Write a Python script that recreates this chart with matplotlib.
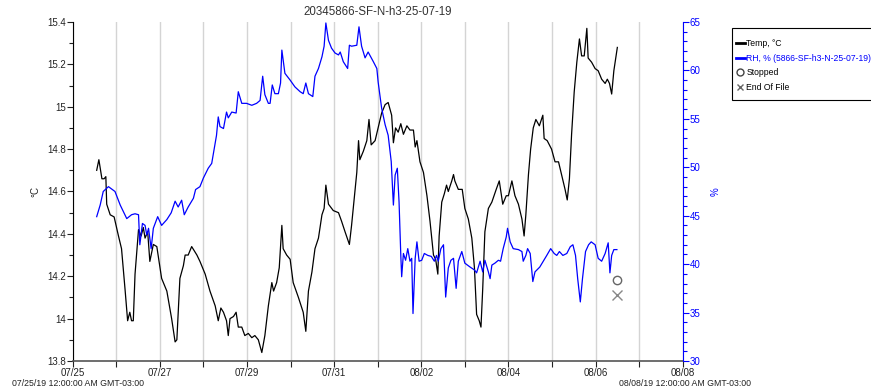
import numpy as np
import matplotlib
matplotlib.use("Agg")
import matplotlib.pyplot as plt
from matplotlib.lines import Line2D
from matplotlib.patches import Rectangle
from matplotlib.ticker import MultipleLocator

plt.rcParams['font.family'] = ['Liberation Sans', 'DejaVu Sans']

# dias desde 07/25/19 00:00
temp_dia = [0.55, 0.60, 0.67, 0.72, 0.76, 0.78, 0.86, 0.95, 1.05, 1.12, 1.20, 1.26, 1.31, 1.35, 1.39,
            1.43, 1.51, 1.57, 1.62, 1.66, 1.72, 1.77, 1.85, 1.93, 2.04, 2.16, 2.27, 2.35, 2.39, 2.46,
            2.54, 2.58, 2.65, 2.73, 2.85, 2.92, 3.04, 3.15, 3.27, 3.34, 3.40, 3.46, 3.53, 3.57, 3.61,
            3.69, 3.75, 3.80, 3.88, 3.95, 4.03, 4.11, 4.18, 4.26, 4.34, 4.41, 4.49, 4.57, 4.61, 4.68,
            4.74, 4.80, 4.83, 4.91, 4.99, 5.06, 5.18, 5.29, 5.35, 5.41, 5.49, 5.56, 5.64, 5.72, 5.77,
            5.81, 5.87, 5.98, 6.10, 6.17, 6.25, 6.35, 6.40, 6.48, 6.52, 6.56, 6.59, 6.67, 6.75, 6.80,
            6.85, 6.94, 7.01, 7.09, 7.17, 7.24, 7.32, 7.36, 7.41, 7.47, 7.53, 7.59, 7.67, 7.74, 7.82,
            7.86, 7.90, 7.97, 8.05, 8.13, 8.20, 8.28, 8.33, 8.38, 8.41, 8.47, 8.53, 8.58, 8.62, 8.70,
            8.74, 8.77, 8.85, 8.94, 9.00, 9.08, 9.16, 9.22, 9.27, 9.33, 9.37, 9.41, 9.46, 9.54, 9.62,
            9.72, 9.79, 9.87, 9.95, 10.00, 10.08, 10.15, 10.23, 10.31, 10.36, 10.40, 10.46, 10.51, 10.57,
            10.63, 10.71, 10.79, 10.82, 10.89, 10.99, 11.07, 11.15, 11.22, 11.30, 11.35, 11.40, 11.45,
            11.51, 11.57, 11.63, 11.68, 11.74, 11.80, 11.83, 11.91, 11.99, 12.06, 12.14, 12.22, 12.27,
            12.32, 12.37, 12.42, 12.50]
temp_val = [14.70, 14.75, 14.66, 14.66, 14.67, 14.54, 14.49, 14.48, 14.39, 14.33, 14.14, 13.99, 14.03, 13.99, 13.99,
            14.21, 14.42, 14.39, 14.43, 14.38, 14.41, 14.27, 14.35, 14.34, 14.19, 14.13, 14.00, 13.89, 13.90, 14.19,
            14.25, 14.30, 14.30, 14.34, 14.30, 14.27, 14.21, 14.13, 14.06, 13.99, 14.05, 14.03, 13.99, 13.92, 14.00,
            14.01, 14.03, 13.96, 13.96, 13.92, 13.93, 13.91, 13.92, 13.90, 13.84, 13.92, 14.06, 14.17, 14.13, 14.17,
            14.24, 14.44, 14.33, 14.30, 14.28, 14.17, 14.10, 14.03, 13.94, 14.13, 14.22, 14.33, 14.38, 14.49, 14.52,
            14.63, 14.54, 14.51, 14.50, 14.46, 14.41, 14.35, 14.44, 14.61, 14.69, 14.84, 14.75, 14.79, 14.84, 14.94,
            14.82, 14.84, 14.90, 14.97, 15.01, 15.02, 14.96, 14.83, 14.90, 14.88, 14.92, 14.87, 14.91, 14.89, 14.89,
            14.81, 14.84, 14.74, 14.69, 14.58, 14.46, 14.30, 14.28, 14.21, 14.39, 14.55, 14.59, 14.63, 14.60, 14.65,
            14.68, 14.65, 14.61, 14.61, 14.52, 14.47, 14.38, 14.24, 14.02, 13.99, 13.96, 14.14, 14.41, 14.52, 14.55,
            14.61, 14.65, 14.54, 14.58, 14.58, 14.65, 14.58, 14.54, 14.47, 14.39, 14.49, 14.68, 14.80, 14.90,
            14.94, 14.91, 14.96, 14.85, 14.84, 14.80, 14.74, 14.74, 14.68, 14.61, 14.56, 14.66, 14.87,
            15.07, 15.21, 15.32, 15.24, 15.24, 15.37, 15.23, 15.21, 15.18, 15.17, 15.13, 15.11, 15.13,
            15.11, 15.06, 15.17, 15.28]

rh_dia = [0.55, 0.63, 0.70, 0.82, 0.97, 1.09, 1.24, 1.35, 1.43, 1.51, 1.54, 1.60, 1.66, 1.70, 1.74, 1.80,
          1.85, 1.95, 2.04, 2.16, 2.26, 2.35, 2.42, 2.50, 2.56, 2.65, 2.77, 2.82, 2.92, 3.00, 3.11, 3.19,
          3.25, 3.30, 3.34, 3.38, 3.46, 3.53, 3.57, 3.65, 3.75, 3.80, 3.88, 3.99, 4.11, 4.22, 4.30, 4.36,
          4.41, 4.49, 4.53, 4.58, 4.64, 4.72, 4.77, 4.80, 4.87, 4.99, 5.10, 5.22, 5.29, 5.35, 5.41, 5.51,
          5.56, 5.64, 5.72, 5.77, 5.81, 5.87, 5.94, 6.02, 6.10, 6.14, 6.21, 6.31, 6.35, 6.40, 6.52, 6.57,
          6.63, 6.71, 6.78, 6.90, 6.98, 7.01, 7.09, 7.17, 7.24, 7.31, 7.36, 7.40, 7.45, 7.49, 7.53, 7.55,
          7.59, 7.64, 7.69, 7.74, 7.78, 7.81, 7.86, 7.90, 7.95, 8.01, 8.07, 8.15, 8.23, 8.30, 8.35, 8.39,
          8.45, 8.51, 8.56, 8.62, 8.68, 8.74, 8.80, 8.85, 8.93, 9.00, 9.12, 9.22, 9.27, 9.35, 9.41, 9.46,
          9.54, 9.58, 9.62, 9.69, 9.77, 9.82, 9.88, 9.95, 9.98, 10.04, 10.11, 10.23, 10.31, 10.34, 10.40,
          10.44, 10.50, 10.56, 10.61, 10.72, 10.80, 10.88, 10.97, 11.05, 11.11, 11.17, 11.25, 11.34, 11.42,
          11.48, 11.54, 11.59, 11.65, 11.70, 11.77, 11.84, 11.90, 11.99, 12.06, 12.14, 12.22, 12.29, 12.33,
          12.37, 12.42, 12.49]
rh_val = [44.9, 46.1, 47.5, 48.0, 47.5, 46.1, 44.7, 45.1, 45.2, 45.1, 42.0, 44.2, 44.0, 43.0, 43.7, 41.6,
          43.7, 44.9, 44.0, 44.6, 45.3, 46.5, 45.9, 46.6, 45.1, 45.9, 46.8, 47.7, 48.0, 48.9, 49.9, 50.4,
          52.0, 53.3, 55.2, 54.2, 54.0, 55.7, 55.1, 55.7, 55.6, 57.8, 56.6, 56.6, 56.4, 56.6, 56.9, 59.4,
          57.5, 56.6, 56.6, 58.5, 57.6, 57.6, 58.7, 62.1, 59.7, 59.0, 58.3, 57.8, 57.6, 58.7, 57.6, 57.3,
          59.4, 60.2, 61.4, 62.5, 64.9, 63.1, 62.3, 61.8, 61.6, 61.9, 60.9, 60.2, 62.6, 62.5, 62.6, 64.5,
          62.5, 61.3, 61.9, 60.9, 60.2, 58.8, 56.1, 54.4, 53.3, 50.6, 46.1, 49.2, 49.9, 46.4, 40.9, 38.7,
          41.1, 40.4, 41.6, 40.3, 40.6, 34.9, 40.6, 42.3, 40.3, 40.4, 41.1, 40.9, 40.8, 40.3, 40.9, 40.3,
          41.6, 42.0, 36.6, 39.6, 40.4, 40.6, 37.5, 40.3, 41.3, 40.1, 39.7, 39.4, 39.1, 40.3, 39.2, 40.4,
          39.2, 38.5, 39.9, 40.1, 40.4, 40.3, 41.6, 42.8, 43.7, 42.3, 41.6, 41.5, 41.3, 40.3, 40.9,
          41.6, 41.1, 38.2, 39.2, 39.7, 40.3, 40.9, 41.6, 41.1, 40.9, 41.3, 40.9, 41.1, 41.8,
          42.0, 40.9, 38.5, 36.1, 38.5, 41.3, 42.0, 42.3, 42.0, 40.6, 40.3, 41.1, 42.2, 39.1,
          40.9, 41.5, 41.5]

# marcadores de fin
stop_dia, stop_temp = 12.49, 14.18
eof_dia, eof_temp = 12.49, 14.11

tick_dias = [0, 2, 4, 6, 8, 10, 12, 14]
tick_labels = ["07/25", "07/27", "07/29", "07/31", "08/02", "08/04", "08/06", "08/08"]

W, H = 871, 390
fig = plt.figure(figsize=(W / 100, H / 100), dpi=100)
ax = fig.add_axes([0.0835, 0.0744, 0.7003, 0.8692])
ax2 = ax.twinx()

ax.plot(temp_dia, temp_val, color='black', lw=0.9)
ax.plot([stop_dia], [stop_temp], marker='o', ms=6, mfc='none', mec='#666666', mew=1, ls='none')
ax.plot([eof_dia], [eof_temp], marker='x', ms=7, mec='#888888', mew=1, ls='none')
ax2.plot(rh_dia, rh_val, color='#0000ff', lw=0.9)

ax.set_xlim(0, 14)
ax.set_ylim(13.8, 15.4)
ax2.set_ylim(30, 65)

ax.set_xticks(range(0, 15))
ax.set_xticklabels([tick_labels[tick_dias.index(d)] if d in tick_dias else "" for d in range(15)])
ax.grid(axis='x', color='#d4d4d4', lw=1)
ax.set_axisbelow(True)

ax.set_yticks(np.arange(13.8, 15.41, 0.2))
ax.set_yticklabels(["13.8", "14", "14.2", "14.4", "14.6", "14.8", "15", "15.2", "15.4"])
ax.yaxis.set_minor_locator(MultipleLocator(0.1))
ax2.yaxis.set_major_locator(MultipleLocator(5))
ax2.yaxis.set_minor_locator(MultipleLocator(1))

ax.tick_params(axis='both', labelsize=7, colors='#222222', length=4, width=0.8, pad=1)
ax.tick_params(axis='y', which='minor', length=3, width=0.8, colors='#222222')
ax2.tick_params(axis='y', which='both', labelsize=7, colors='#0000ff', width=0.8, pad=1)
ax2.tick_params(axis='y', which='major', length=4)
ax2.tick_params(axis='y', which='minor', length=3)

for a in (ax, ax2):
    a.spines['top'].set_visible(False)
ax.spines['right'].set_visible(False)
ax.spines['left'].set_color('black')
ax.spines['bottom'].set_color('#555555')
ax.spines['bottom'].set_linewidth(1.2)
ax2.spines['left'].set_visible(False)
ax2.spines['bottom'].set_visible(False)
ax2.spines['right'].set_color('#0000ff')

ax.set_ylabel("°C", fontsize=7, color='#222222', labelpad=5)
ax2.set_ylabel("%", fontsize=7, color='#0000ff', labelpad=7)
ax.set_title("20345866-SF-N-h3-25-07-19", fontsize=8.3, color='#333333', pad=5)

fig.text(12 / W, 1 - 383 / H, "07/25/19 12:00:00 AM GMT-03:00", fontsize=6.3,
         color='#222222', va='center', ha='left')
fig.text(619 / W, 1 - 383 / H, "08/08/19 12:00:00 AM GMT-03:00", fontsize=6.3,
         color='#222222', va='center', ha='left')

# caja de leyenda (cortada por el borde derecho)
fig.patches.append(Rectangle((732 / W, 1 - 100 / H), 150 / W, 72 / H, transform=fig.transFigure,
                             facecolor='white', edgecolor='black', lw=0.8))

handles = [Line2D([], [], color='black', lw=2),
           Line2D([], [], color='#0000ff', lw=2),
           Line2D([], [], marker='o', mfc='none', mec='#444444', ls='none', ms=5),
           Line2D([], [], marker='x', mec='#666666', ls='none', ms=5)]
labels = ["Temp, °C", "RH, % (5866-SF-h3-N-25-07-19)", "Stopped", "End Of File"]
leg = fig.legend(handles, labels, loc='upper left', bbox_to_anchor=(736 / W, 1 - 39 / H),
                 fontsize=6.2, frameon=False, handlelength=1.0, handletextpad=0.2,
                 borderpad=0, labelspacing=0.65, borderaxespad=0)
leg.get_texts()[1].set_color('#0000ff')

fig.savefig("out.png", dpi=100)
